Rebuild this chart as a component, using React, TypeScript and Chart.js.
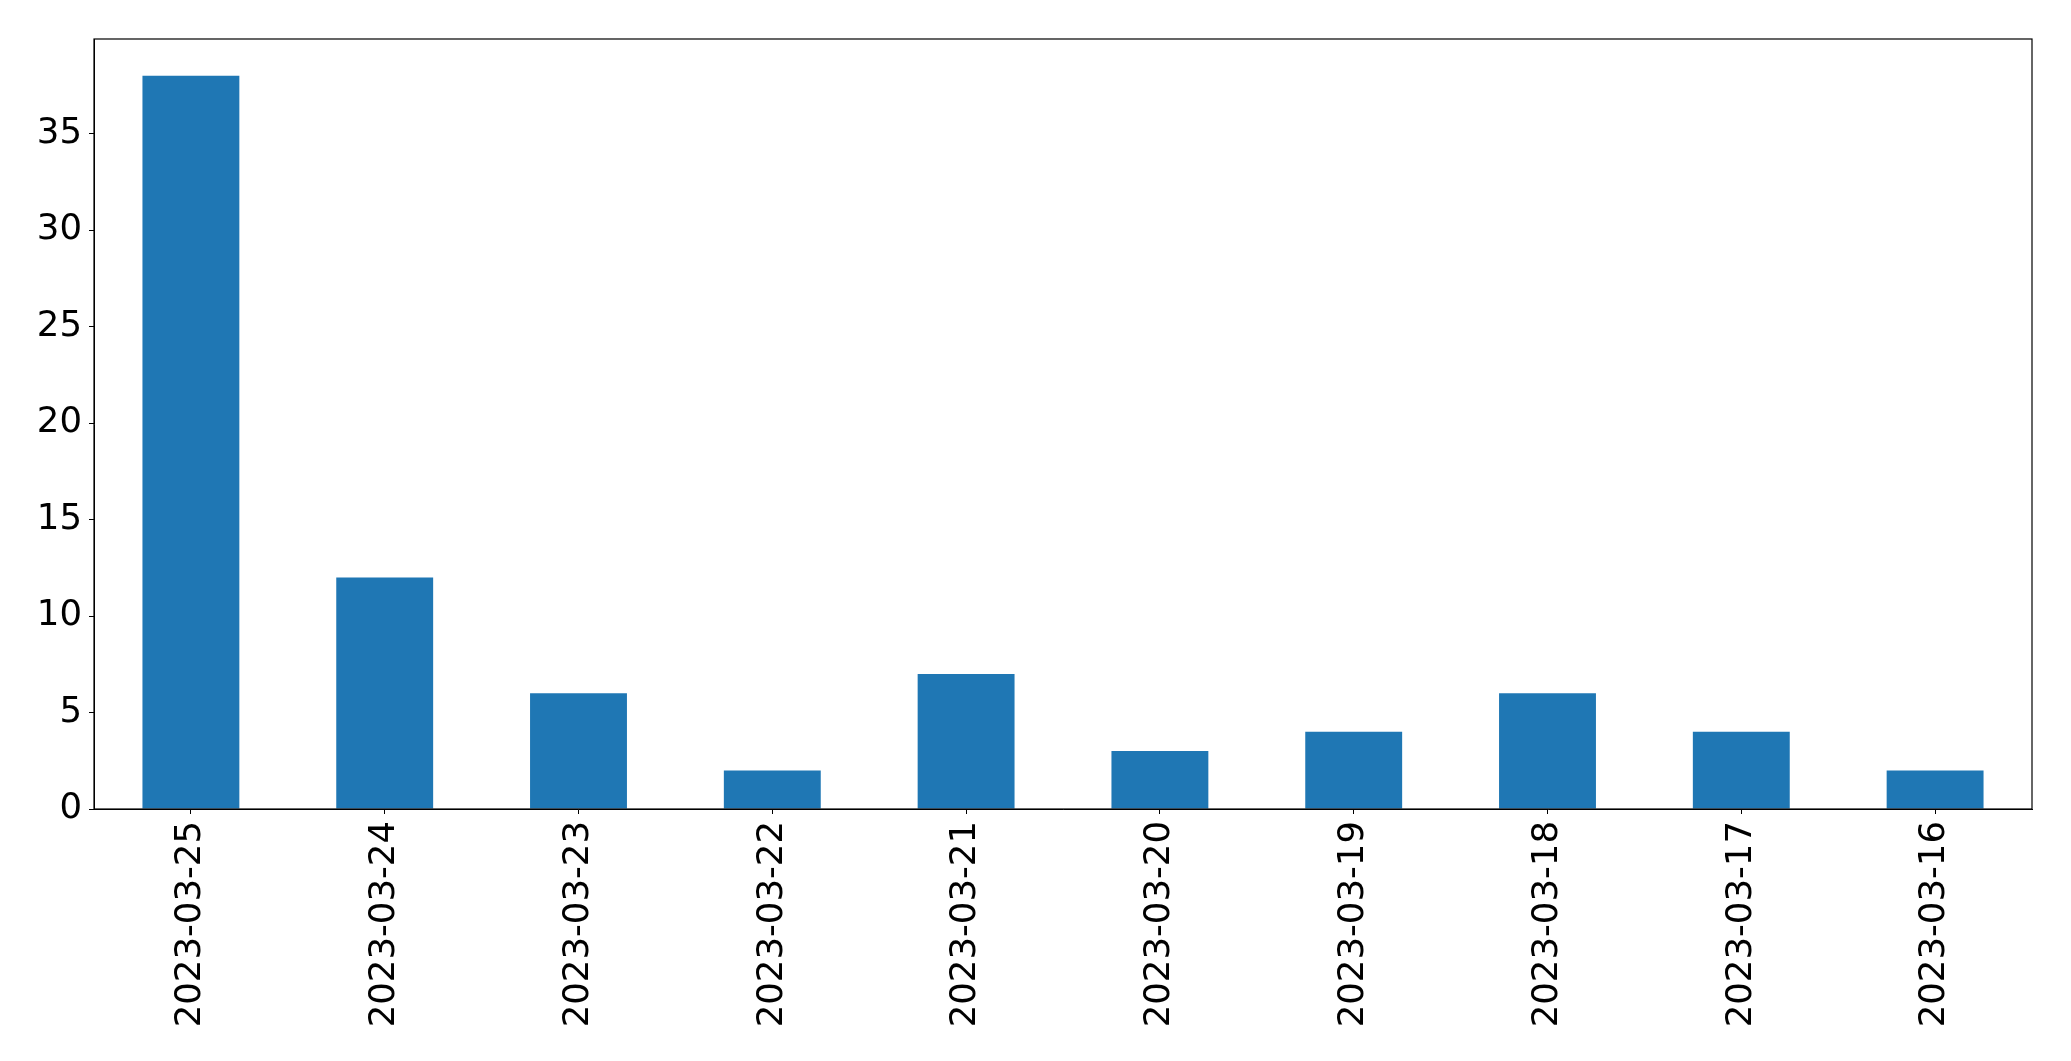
import React, { useEffect, useRef } from "react";
import { Chart, registerables } from "chart.js";

Chart.register(...registerables);

const categories = [
  "2023-03-25",
  "2023-03-24",
  "2023-03-23",
  "2023-03-22",
  "2023-03-21",
  "2023-03-20",
  "2023-03-19",
  "2023-03-18",
  "2023-03-17",
  "2023-03-16",
];
const counts = [38, 12, 6, 2, 7, 3, 4, 6, 4, 2];
const yMax = 39.9;
const yStep = 5;

const W = 2071;
const H = 1061;
const FONT = "'DejaVu Sans', sans-serif";

const frame = {
  id: "frame",
  afterDraw(chart: any) {
    const { ctx, chartArea } = chart;
    ctx.save();
    ctx.strokeStyle = "#000";
    ctx.lineWidth = 1.2;
    ctx.strokeRect(chartArea.left, chartArea.top, chartArea.right - chartArea.left, chartArea.bottom - chartArea.top);
    ctx.restore();
  },
};

export default function App() {
  const ref = useRef<HTMLCanvasElement | null>(null);
  useEffect(() => {
    if (!ref.current) return;
    const chart = new Chart(ref.current, {
      type: "bar",
      data: {
        labels: categories,
        datasets: [
          {
            data: counts,
            backgroundColor: "#1f77b4",
            borderWidth: 0,
            categoryPercentage: 1,
            barPercentage: 0.5,
          },
        ],
      },
      options: {
        responsive: false,
        animation: false,
        devicePixelRatio: 1,
        layout: { padding: { left: 0, right: 39, top: 39, bottom: 0 } },
        plugins: { legend: { display: false }, tooltip: { enabled: false } },
        scales: {
          x: {
            offset: true,
            grid: { display: true, drawOnChartArea: false, drawTicks: true, tickLength: 5, color: "#000", offset: false },
            border: { display: true, color: "#000", width: 1 },
            ticks: {
              color: "#000",
              font: { family: FONT, size: 35.5 },
              minRotation: 90,
              maxRotation: 90,
              padding: 7,
              autoSkip: false,
            },
            afterFit: (scale: any) => {
              scale.height = H - 809;
            },
          },
          y: {
            min: 0,
            max: yMax,
            grid: { display: true, drawOnChartArea: false, drawTicks: true, tickLength: 5, color: "#000" },
            border: { display: true, color: "#000", width: 1 },
            ticks: {
              stepSize: yStep,
              includeBounds: false,
              color: "#000",
              font: { family: FONT, size: 35.5 },
              padding: 7,
            },
            afterFit: (scale: any) => {
              scale.width = 94;
            },
          },
        },
      },
      plugins: [frame],
    });
    return () => chart.destroy();
  }, []);
  return (
    <div style={{ position: "fixed", left: 0, top: 0, width: W, height: H, background: "#fff" }}>
      <canvas ref={ref} width={W} height={H} style={{ width: W, height: H, display: "block" }} />
    </div>
  );
}
